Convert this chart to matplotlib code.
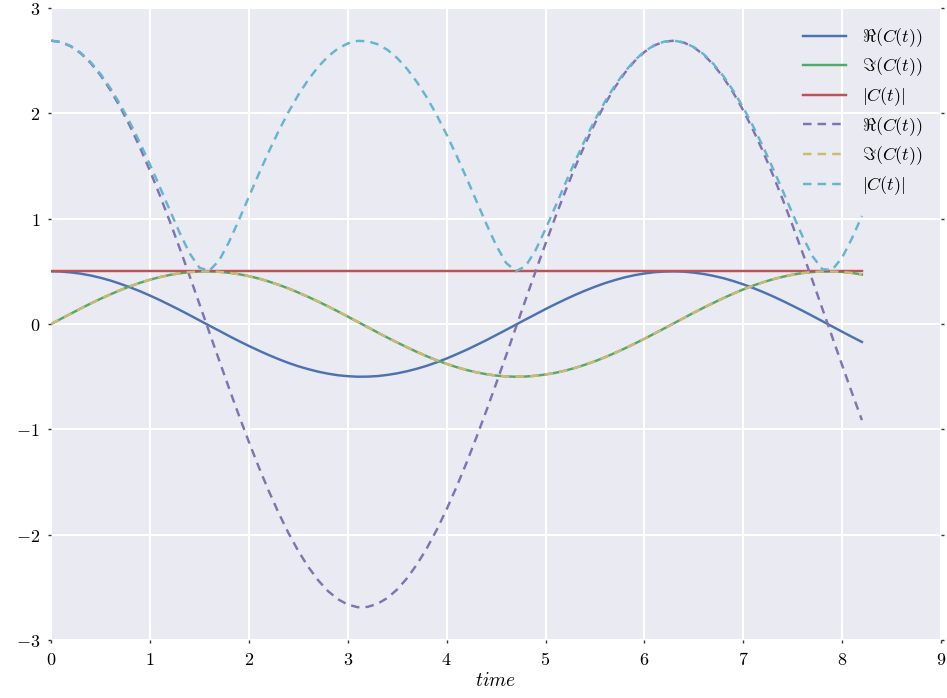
import matplotlib
matplotlib.use("Agg")
import matplotlib.pyplot as plt
from matplotlib.ticker import FuncFormatter, MultipleLocator

# sample times
t = [0.0, 0.1, 0.2, 0.3, 0.4, 0.5, 0.6, 0.7, 0.8, 0.9,
     1.0, 1.1, 1.2, 1.3, 1.4, 1.5, 1.6, 1.7, 1.8, 1.9,
     2.0, 2.1, 2.2, 2.3, 2.4, 2.5, 2.6, 2.7, 2.8, 2.9,
     3.0, 3.1, 3.2, 3.3, 3.4, 3.5, 3.6, 3.7, 3.8, 3.9,
     4.0, 4.1, 4.2, 4.3, 4.4, 4.5, 4.6, 4.7, 4.8, 4.9,
     5.0, 5.1, 5.2, 5.3, 5.4, 5.5, 5.6, 5.7, 5.8, 5.9,
     6.0, 6.1, 6.2, 6.3, 6.4, 6.5, 6.6, 6.7, 6.8, 6.9,
     7.0, 7.1, 7.2, 7.3, 7.4, 7.5, 7.6, 7.7, 7.8, 7.9,
     8.0, 8.1, 8.2]

re_solid = [0.500, 0.498, 0.490, 0.478, 0.461, 0.439, 0.413, 0.382, 0.348, 0.311,
            0.270, 0.227, 0.181, 0.134, 0.085, 0.035, -0.015, -0.064, -0.114, -0.162,
            -0.208, -0.252, -0.294, -0.333, -0.369, -0.401, -0.428, -0.452, -0.471, -0.486,
            -0.495, -0.500, -0.499, -0.494, -0.483, -0.468, -0.448, -0.424, -0.396, -0.363,
            -0.327, -0.287, -0.245, -0.200, -0.154, -0.105, -0.056, -0.006, 0.044, 0.093,
            0.142, 0.189, 0.234, 0.277, 0.317, 0.354, 0.388, 0.417, 0.443, 0.464,
            0.480, 0.492, 0.498, 0.500, 0.497, 0.488, 0.475, 0.457, 0.435, 0.408,
            0.377, 0.342, 0.304, 0.263, 0.219, 0.173, 0.126, 0.077, 0.027, -0.023,
            -0.073, -0.122, -0.170]

im_solid = [0.000, 0.050, 0.099, 0.148, 0.195, 0.240, 0.282, 0.322, 0.359, 0.392,
            0.421, 0.446, 0.466, 0.482, 0.493, 0.499, 0.500, 0.496, 0.487, 0.473,
            0.455, 0.432, 0.404, 0.373, 0.338, 0.299, 0.258, 0.214, 0.168, 0.120,
            0.071, 0.021, -0.029, -0.079, -0.128, -0.175, -0.221, -0.265, -0.306, -0.344,
            -0.378, -0.409, -0.436, -0.458, -0.476, -0.489, -0.497, -0.500, -0.498, -0.491,
            -0.479, -0.463, -0.442, -0.416, -0.386, -0.353, -0.316, -0.275, -0.232, -0.187,
            -0.140, -0.091, -0.042, 0.008, 0.058, 0.108, 0.156, 0.202, 0.247, 0.289,
            0.329, 0.365, 0.397, 0.425, 0.449, 0.469, 0.484, 0.494, 0.499, 0.499,
            0.495, 0.485, 0.470]

abs_solid = [0.5] * len(t)

re_dash = [2.690, 2.677, 2.636, 2.570, 2.478, 2.361, 2.220, 2.057, 1.874, 1.672,
           1.453, 1.220, 0.975, 0.720, 0.457, 0.190, -0.079, -0.346, -0.611, -0.870,
           -1.119, -1.358, -1.583, -1.792, -1.984, -2.155, -2.305, -2.432, -2.535, -2.612,
           -2.663, -2.688, -2.685, -2.656, -2.601, -2.519, -2.412, -2.281, -2.128, -1.953,
           -1.758, -1.546, -1.319, -1.078, -0.827, -0.567, -0.302, -0.033, 0.235, 0.502,
           0.763, 1.017, 1.260, 1.491, 1.707, 1.906, 2.086, 2.245, 2.382, 2.495,
           2.583, 2.645, 2.681, 2.690, 2.672, 2.627, 2.556, 2.460, 2.339, 2.194,
           2.028, 1.841, 1.637, 1.415, 1.180, 0.932, 0.676, 0.413, 0.145, -0.124,
           -0.391, -0.655, -0.912]

im_dash = [0.000, 0.050, 0.099, 0.148, 0.195, 0.240, 0.282, 0.322, 0.359, 0.392,
           0.421, 0.446, 0.466, 0.482, 0.493, 0.499, 0.500, 0.496, 0.487, 0.473,
           0.455, 0.432, 0.404, 0.373, 0.338, 0.299, 0.258, 0.214, 0.168, 0.120,
           0.071, 0.021, -0.029, -0.079, -0.128, -0.175, -0.221, -0.265, -0.306, -0.344,
           -0.378, -0.409, -0.436, -0.458, -0.476, -0.489, -0.497, -0.500, -0.498, -0.491,
           -0.479, -0.463, -0.442, -0.416, -0.386, -0.353, -0.316, -0.275, -0.232, -0.187,
           -0.140, -0.091, -0.042, 0.008, 0.058, 0.108, 0.156, 0.202, 0.247, 0.289,
           0.329, 0.365, 0.397, 0.425, 0.449, 0.469, 0.484, 0.494, 0.499, 0.499,
           0.495, 0.485, 0.470]

abs_dash = [2.690, 2.677, 2.638, 2.574, 2.486, 2.373, 2.238, 2.082, 1.908, 1.717,
            1.513, 1.299, 1.081, 0.866, 0.672, 0.534, 0.506, 0.605, 0.781, 0.990,
            1.208, 1.425, 1.634, 1.831, 2.012, 2.176, 2.319, 2.441, 2.540, 2.615,
            2.664, 2.688, 2.685, 2.657, 2.604, 2.525, 2.422, 2.296, 2.150, 1.983,
            1.798, 1.599, 1.389, 1.171, 0.954, 0.749, 0.582, 0.501, 0.551, 0.702,
            0.901, 1.117, 1.335, 1.548, 1.750, 1.938, 2.110, 2.262, 2.393, 2.502,
            2.587, 2.647, 2.681, 2.690, 2.673, 2.629, 2.561, 2.468, 2.352, 2.213,
            2.054, 1.877, 1.684, 1.477, 1.263, 1.044, 0.831, 0.644, 0.520, 0.515,
            0.631, 0.815, 1.026]

labels = [r"$\Re(C(t))$", r"$\Im(C(t))$", r"$|C(t)|$"]
colors_solid = ["#4C72B0", "#55A868", "#C44E52"]
colors_dash = ["#8172B2", "#CCB974", "#64B5CD"]

plt.rcParams["mathtext.fontset"] = "cm"
plt.rcParams["font.family"] = ["DejaVu Serif"]

fig = plt.figure(figsize=(9.47, 6.98), dpi=100)
ax = fig.add_axes([0.054, 0.083, 0.9397, 0.9055])
ax.set_facecolor("#EAEAF2")
for s in ax.spines.values():
    s.set_visible(False)
ax.grid(True, color="white", linewidth=1.5)
ax.set_axisbelow(True)

lw = 1.75
for y, c, lab in zip([re_solid, im_solid, abs_solid], colors_solid, labels):
    ax.plot(t, y, color=c, lw=lw, label=lab)
for y, c, lab in zip([re_dash, im_dash, abs_dash], colors_dash, labels):
    ax.plot(t, y, color=c, lw=lw, ls=(0, (3.5, 2.5)), label=lab)

ax.set_xlim(0, 9)
ax.set_ylim(-3, 3)
ax.xaxis.set_major_locator(MultipleLocator(1))
ax.yaxis.set_major_locator(MultipleLocator(1))
fmt = FuncFormatter(lambda v, p: r"$%d$" % round(v))
ax.xaxis.set_major_formatter(fmt)
ax.yaxis.set_major_formatter(fmt)
ax.tick_params(axis="both", which="major", labelsize=13, length=2, width=1,
               color="#333333", direction="out", pad=6)
ax.tick_params(axis="y", right=True)
ax.set_xlabel(r"$time$", fontsize=14, labelpad=2)

leg = ax.legend(loc="upper right", frameon=False, fontsize=13, handlelength=2.4,
                labelspacing=0.38, borderaxespad=0.6, handletextpad=0.9)

fig.savefig("out.png", dpi=100)
